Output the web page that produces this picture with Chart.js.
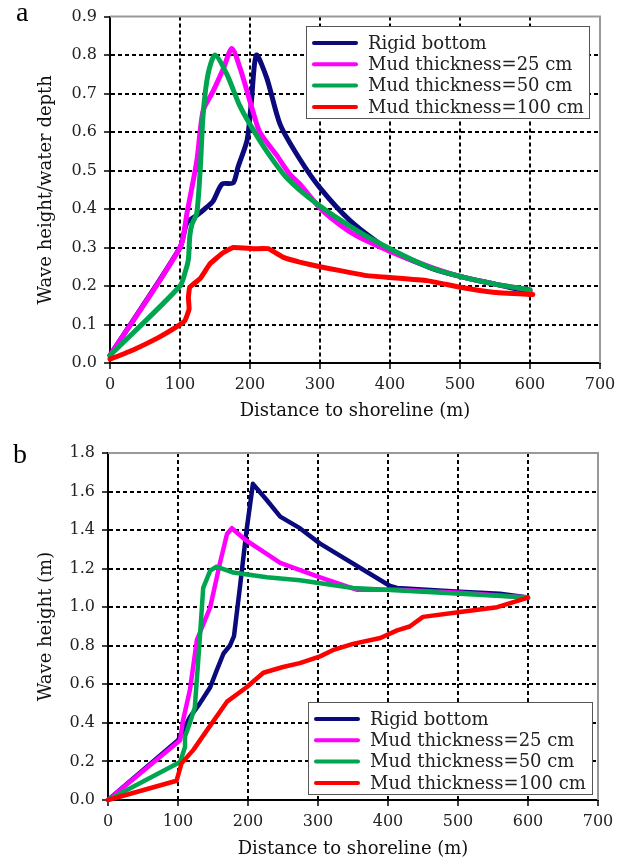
<!DOCTYPE html>
<html lang="en">
<head>
<meta charset="UTF-8">
<title>Wave height over mud</title>
<script src="https://cdn.jsdelivr.net/npm/chart.js"></script>
<style>
  body { margin: 0; background: #fff; }
  canvas { display: block; }
</style>
</head>
<body>
<canvas id="chartA" width="625" height="430"></canvas>
<canvas id="chartB" width="625" height="432"></canvas>
<script>
// series labels
const seriesNames = ['Rigid bottom', 'Mud thickness=25 cm', 'Mud thickness=50 cm', 'Mud thickness=100 cm'];
const xTicks = [0, 100, 200, 300, 400, 500, 600, 700];

// panel a: wave height / water depth, [distance m, ratio]
const aRigid = [[0,0.02],[100,0.30],[110,0.365],[125,0.385],[135,0.40],[147,0.42],[160,0.465],[176,0.468],[183,0.51],[196,0.58],[202,0.68],[209,0.80],[224,0.74],[243,0.62],[271,0.53],[300,0.455],[343,0.37],[396,0.297],[457,0.248],[500,0.225],[550,0.205],[600,0.185]];
const aMud25 = [[0,0.02],[100,0.30],[110,0.39],[124,0.525],[133,0.655],[147,0.705],[162,0.765],[174,0.817],[186,0.765],[204,0.655],[214,0.60],[238,0.54],[257,0.49],[271,0.465],[304,0.395],[347,0.336],[400,0.29],[457,0.25],[500,0.225],[550,0.205],[600,0.19]];
const aMud50 = [[0,0.02],[100,0.20],[108,0.24],[112,0.27],[114,0.33],[117,0.36],[124,0.39],[129,0.507],[133,0.645],[140,0.75],[150,0.80],[167,0.75],[185,0.67],[200,0.62],[224,0.55],[253,0.48],[296,0.413],[353,0.344],[400,0.297],[457,0.248],[500,0.225],[550,0.205],[600,0.19]];
const aMud100 = [[0,0.01],[33,0.034],[67,0.064],[95,0.094],[107,0.11],[113,0.14],[112,0.17],[114,0.197],[129,0.22],[143,0.258],[162,0.287],[176,0.30],[205,0.297],[226,0.297],[247,0.275],[271,0.262],[300,0.25],[329,0.24],[367,0.227],[400,0.222],[453,0.214],[500,0.197],[547,0.184],[604,0.178]];
const aYTicks = [0, 0.1, 0.2, 0.3, 0.4, 0.5, 0.6, 0.7, 0.8, 0.9];

// panel b: wave height (m), [distance m, height m]
const bRigid = [[0,0],[100,0.31],[103,0.33],[117,0.43],[131,0.50],[146,0.585],[155,0.67],[165,0.76],[174,0.80],[180,0.85],[189,1.12],[198,1.40],[207,1.64],[227,1.555],[246,1.47],[274,1.41],[303,1.33],[403,1.11],[413,1.10],[503,1.08],[560,1.07],[600,1.05]];
const bMud25 = [[0,0],[103,0.31],[107,0.41],[117,0.57],[127,0.83],[146,1.0],[160,1.23],[170,1.38],[177,1.41],[196,1.35],[217,1.30],[246,1.23],[303,1.155],[356,1.09],[413,1.09],[503,1.075],[600,1.05]];
const bMud50 = [[0,0],[103,0.197],[110,0.275],[110,0.33],[117,0.40],[124,0.48],[131,0.83],[136,1.10],[146,1.19],[155,1.21],[179,1.18],[227,1.155],[274,1.14],[350,1.10],[503,1.07],[600,1.05]];
const bMud100 = [[0,0],[98,0.10],[105,0.19],[122,0.26],[141,0.36],[170,0.51],[198,0.585],[222,0.66],[250,0.69],[274,0.71],[303,0.745],[321,0.777],[350,0.81],[389,0.84],[413,0.88],[431,0.90],[450,0.95],[503,0.975],[556,1.0],[600,1.05]];
const bYTicks = [0, 0.2, 0.4, 0.6, 0.8, 1.0, 1.2, 1.4, 1.6, 1.8];

const colors = ['#0a0a7c', '#ff00ff', '#00a550', '#ff0000'];

Chart.defaults.font.family = '"DejaVu Serif", serif';
Chart.defaults.color = '#222';

function toPoints(pairs) {
  return pairs.map(p => ({ x: p[0], y: p[1] }));
}

function makeDatasets(list, width, tensions) {
  return list.map((pairs, i) => ({
    label: seriesNames[i],
    data: toPoints(pairs),
    borderColor: colors[i],
    backgroundColor: colors[i],
    borderWidth: width,
    pointRadius: 0,
    tension: tensions[i],
    borderJoinStyle: 'round',
    borderCapStyle: 'round',
    clip: 10,
    order: 4 - i
  }));
}

// gray top/right frame, panel letter and boxed legend inside the plot
const panelDecor = {
  id: 'panelDecor',
  beforeDatasetsDraw(chart, args, opts) {
    const { ctx, chartArea: a } = chart;
    ctx.save();
    ctx.strokeStyle = '#999';
    ctx.lineWidth = 2;
    ctx.beginPath();
    ctx.moveTo(a.left, a.top);
    ctx.lineTo(a.right, a.top);
    ctx.lineTo(a.right, a.bottom);
    ctx.stroke();
    ctx.restore();
  },
  afterDraw(chart, args, opts) {
    const ctx = chart.ctx;
    ctx.save();
    ctx.fillStyle = '#000';
    ctx.font = '28px "Liberation Serif"';
    ctx.textBaseline = 'alphabetic';
    ctx.fillText(opts.letter, opts.letterX, opts.letterY);

    const lg = opts.legend;
    ctx.fillStyle = '#fff';
    ctx.fillRect(lg.x, lg.y, lg.w, lg.h);
    ctx.strokeStyle = '#555';
    ctx.lineWidth = 1;
    ctx.strokeRect(lg.x + 0.5, lg.y + 0.5, lg.w, lg.h);
    ctx.font = '18px "DejaVu Serif"';
    ctx.textBaseline = 'middle';
    chart.data.datasets.forEach((ds, i) => {
      const cy = lg.y + 17 + i * 21.3;
      ctx.strokeStyle = ds.borderColor;
      ctx.lineWidth = 4;
      ctx.lineCap = 'round';
      ctx.beginPath();
      ctx.moveTo(lg.x + 8, cy);
      ctx.lineTo(lg.x + 50, cy);
      ctx.stroke();
      ctx.fillStyle = '#222';
      ctx.fillText(ds.label, lg.x + 62, cy + 1);
    });
    ctx.restore();
  }
};

function makeChart(id, datasets, yMax, yTitle, dims, decor) {
  const edge = (max) => (c) => (c.tick && Math.abs(c.tick.value - max) < 1e-9) ? 'rgba(0,0,0,0)' : '#000';
  return new Chart(document.getElementById(id), {
    type: 'line',
    data: { datasets: datasets },
    plugins: [panelDecor],
    options: {
      responsive: false,
      animation: false,
      devicePixelRatio: 1,
      layout: { padding: { top: dims.top, right: dims.right, left: 0, bottom: 0 } },
      plugins: {
        legend: { display: false },
        tooltip: { enabled: false },
        panelDecor: decor
      },
      scales: {
        x: {
          type: 'linear',
          min: 0,
          max: 700,
          afterBuildTicks: s => { s.ticks = xTicks.map(v => ({ value: v })); },
          afterFit: s => { s.height = dims.xHeight; },
          ticks: { font: { size: 16 }, padding: 6, maxRotation: 0 },
          grid: { color: edge(700), lineWidth: 2, tickColor: '#000', tickLength: 6, tickWidth: 1.5, tickBorderDash: [] },
          border: { display: true, color: '#000', width: 2, dash: [4, 3] },
          title: { display: true, text: 'Distance to shoreline (m)', font: { size: 18 }, color: '#111', padding: { top: 0, bottom: dims.xTitlePad } }
        },
        y: {
          min: 0,
          max: yMax,
          afterBuildTicks: s => { s.ticks = (yMax > 1 ? bYTicks : aYTicks).map(v => ({ value: v })); },
          afterFit: s => { s.width = dims.yWidth; },
          ticks: { font: { size: 16 }, padding: 7, callback: v => v.toFixed(1) },
          grid: { color: edge(yMax), lineWidth: 2, tickColor: '#000', tickLength: 6, tickWidth: 1.5, tickBorderDash: [] },
          border: { display: true, color: '#000', width: 2, dash: [4, 3] },
          title: { display: true, text: yTitle, font: { size: 18 }, color: '#111', padding: { top: 36, bottom: 0 } }
        }
      }
    }
  });
}

makeChart('chartA', makeDatasets([aRigid, aMud25, aMud50, aMud100], 5, [0.25, 0.25, 0.25, 0.1]), 0.9,
  'Wave height/water depth',
  { top: 15, right: 25, yWidth: 110, xHeight: 67, xTitlePad: 8 },
  { letter: 'a', letterX: 16, letterY: 21, legend: { x: 306, y: 26, w: 283, h: 92 } });

makeChart('chartB', makeDatasets([bRigid, bMud25, bMud50, bMud100], 4.5, [0, 0, 0, 0]), 1.8,
  'Wave height (m)',
  { top: 23, right: 27, yWidth: 108, xHeight: 62, xTitlePad: 2 },
  { letter: 'b', letterX: 13, letterY: 33, legend: { x: 308, y: 272, w: 284, h: 92 } });
</script>
</body>
</html>
